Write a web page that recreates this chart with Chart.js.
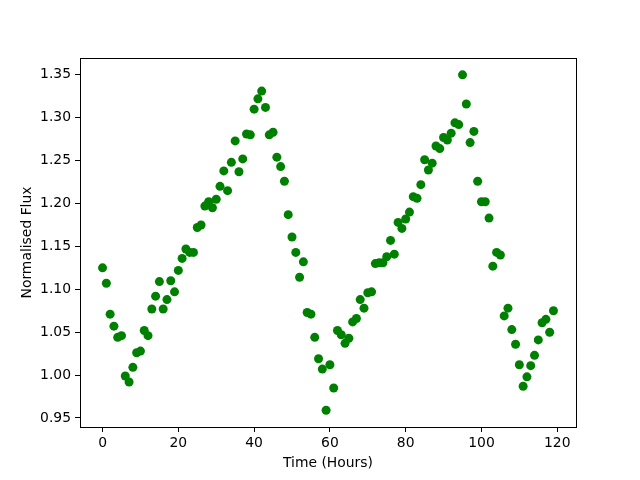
<!DOCTYPE html>
<html>
<head>
<meta charset="utf-8">
<script src="https://cdn.jsdelivr.net/npm/chart.js@4"></script>
<style>
  html, body { margin: 0; padding: 0; background: #fff; }
  #wrap { width: 640px; height: 480px; }
</style>
</head>
<body>
<div id="wrap"><canvas id="chart-flux" width="640" height="480"></canvas></div>
<script>
// ==================== DATOS ====================
const horas = [];
for (let h = 0; h < 120; h++) horas.push(h);

const flujo = [
    1.125, 1.107, 1.071, 1.057, 1.044, 1.046, 0.999, 0.992, 1.009, 1.026,
    1.028, 1.052, 1.046, 1.077, 1.092, 1.109, 1.077, 1.088, 1.110, 1.097,
    1.122, 1.136, 1.147, 1.143, 1.143, 1.172, 1.175, 1.197, 1.202, 1.195,
    1.205, 1.220, 1.238, 1.215, 1.248, 1.273, 1.237, 1.252, 1.281, 1.280,
    1.310, 1.322, 1.331, 1.312, 1.280, 1.283, 1.254, 1.243, 1.226, 1.187,
    1.161, 1.143, 1.114, 1.132, 1.073, 1.071, 1.044, 1.019, 1.007, 0.959,
    1.012, 0.985, 1.052, 1.047, 1.037, 1.043, 1.062, 1.066, 1.088, 1.078,
    1.096, 1.097, 1.130, 1.131, 1.131, 1.138, 1.157, 1.141, 1.178, 1.171,
    1.182, 1.190, 1.208, 1.206, 1.222, 1.251, 1.239, 1.247, 1.267, 1.264,
    1.277, 1.274, 1.282, 1.294, 1.292, 1.350, 1.316, 1.271, 1.284, 1.226,
    1.202, 1.202, 1.183, 1.127, 1.143, 1.140, 1.069, 1.078, 1.053, 1.036,
    1.012, 0.987, 0.998, 1.011, 1.023, 1.041, 1.061, 1.065, 1.050, 1.075
];

const ticksX = [0, 20, 40, 60, 80, 100, 120];
const ticksY = [0.95, 1.00, 1.05, 1.10, 1.15, 1.20, 1.25, 1.30, 1.35];

// ==================== GRÁFICO ====================
const fuente = { family: 'DejaVu Sans', size: 13.9 };

const marco = {
    id: 'marco',
    afterDraw(chart) {
        const { ctx, chartArea: a } = chart;
        ctx.save();
        ctx.strokeStyle = '#000';
        ctx.lineWidth = 1;
        ctx.strokeRect(Math.round(a.left) + 0.5, Math.round(a.top) + 0.5,
                       Math.round(a.right - a.left), Math.round(a.bottom - a.top));
        ctx.restore();
    }
};

const ctx = document.getElementById('chart-flux').getContext('2d');
window.fluxChart = new Chart(ctx, {
    type: 'scatter',
    data: {
        datasets: [{
            data: horas.map((h, i) => ({ x: h, y: flujo[i] })),
            backgroundColor: '#008000',
            borderWidth: 0,
            pointRadius: 4.5,
            pointHoverRadius: 4.5
        }]
    },
    options: {
        responsive: false,
        animation: false,
        layout: { padding: { left: 0, top: 58, right: 64, bottom: 0 } },
        plugins: { legend: { display: false }, tooltip: { enabled: false } },
        scales: {
            x: {
                type: 'linear',
                min: -5.95, max: 124.95,
                afterBuildTicks: s => { s.ticks = ticksX.map(v => ({ value: v })); },
                afterFit: s => { s.height = 53; },
                grid: { drawOnChartArea: false, drawTicks: true, tickLength: 5, color: '#000' },
                border: { display: false },
                ticks: { color: '#000', font: fuente, padding: 3, maxRotation: 0 },
                title: { display: true, text: 'Time (Hours)', color: '#000', font: fuente, padding: { top: 2, bottom: 8 } }
            },
            y: {
                type: 'linear',
                min: 0.9395, max: 1.3696,
                afterBuildTicks: s => { s.ticks = ticksY.map(v => ({ value: v })); },
                afterFit: s => { s.width = 80; },
                grid: { drawOnChartArea: false, drawTicks: true, tickLength: 5, color: '#000' },
                border: { display: false },
                ticks: { color: '#000', font: fuente, padding: 4, callback: v => v.toFixed(2) },
                title: { display: true, text: 'Normalised Flux', color: '#000', font: fuente, padding: { top: 19, bottom: 2 } }
            }
        }
    },
    plugins: [marco]
});
</script>
</body>
</html>
